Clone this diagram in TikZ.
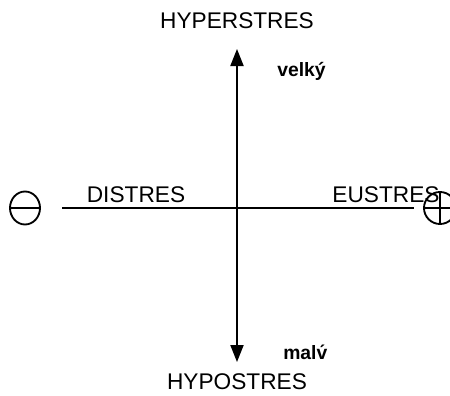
\documentclass[tikz,border=0pt]{standalone}
\usepackage{fontspec}
\setmainfont{Liberation Sans}
\usepackage{tikz}
\usetikzlibrary{arrows.meta,positioning}
\definecolor{ink}{HTML}{000000}
\tikzset{
  every node/.style={font=\rmfamily,text=ink,inner sep=0pt},
  big/.style={font=\fontsize{17}{20}\selectfont,anchor=base},
  small/.style={font=\fontsize{14.5}{17}\selectfont\bfseries,anchor=base west},
  axis/.style={draw=ink,line width=1.5pt},
  ar/.style={-{Triangle[width=9.75pt,length=12.75pt]},draw=ink,line width=1.5pt},
  sign/.style={draw=ink,line width=1.4pt},
}

\begin{document}
\begin{tikzpicture}[x=0.75pt,y=-0.75pt]
\clip (0,0) rectangle (450,396);
% axis ends
\coordinate (o) at (237,208);
\coordinate (top) at (237,49);
\coordinate (bot) at (237,362);
\coordinate (lft) at (62,208);
\coordinate (rgt) at (414,208);

\draw[axis] (lft) -- (rgt);
\draw[ar] (o) -- (top);
\draw[ar] (o) -- (bot);

% minus and plus
\draw[sign] (25,208) ellipse (15 and 16.5);
\draw[sign] (10,208) -- (40,208);
\draw[sign] (440,208) ellipse (16 and 16);
\draw[sign] (424,208) -- (456,208);
\draw[sign] (440,192) -- (440,224);

\node[big] (hyper) at (237,28) {HYPERSTRES};
\node[big] (hypo) at (237,389) {HYPOSTRES};
\node[big] (dis) at (136,202) {DISTRES};
\node[big] (eu) at (386,202) {EUSTRES};
\node[small] (velky) at (277,76) {velký};
\node[small] (malv) at (283,359) {malv́};
\end{tikzpicture}
\end{document}
